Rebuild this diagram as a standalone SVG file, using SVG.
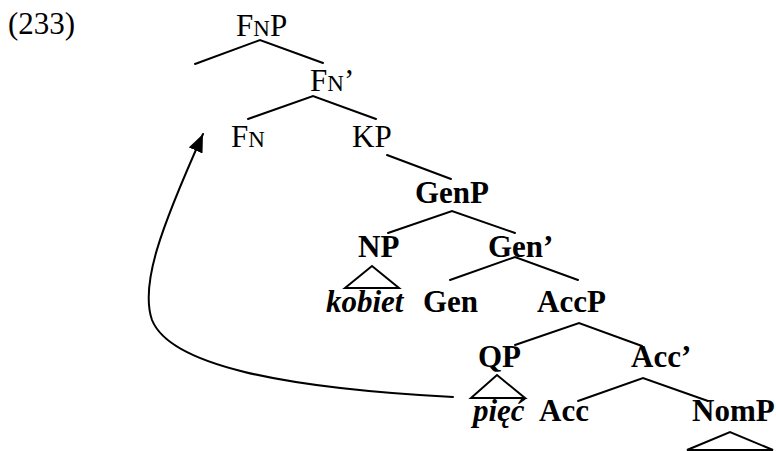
<svg xmlns="http://www.w3.org/2000/svg" width="776" height="451" viewBox="0 0 776 451">
<style>
text{font-family:"Liberation Serif","Times New Roman",serif;font-size:31px;fill:#000}
.b{font-weight:bold;font-size:31px}
.bi{font-weight:bold;font-style:italic;font-size:31px}
.sc{font-size:23px}
.e{stroke:#000;stroke-width:2;fill:none;stroke-linecap:round}
</style>
<defs>
<marker id="ah" markerUnits="userSpaceOnUse" markerWidth="19" markerHeight="16" refX="18" refY="7.5" orient="auto">
<path d="M0,0 L18,7.5 L0,15 z" fill="#000"/>
</marker>
</defs>
<text x="8" y="34">(233)</text>
<g id="FNP"><text x="236" y="36">F<tspan class="sc">N</tspan>P</text></g>
<g id="FNbar"><text x="310" y="91">F<tspan class="sc">N</tspan>’</text></g>
<g id="FN"><text x="231" y="147">F<tspan class="sc">N</tspan></text></g>
<g id="KP"><text x="352" y="147">KP</text></g>
<g id="GenP"><text class="b" x="415" y="203">GenP</text></g>
<g id="NP"><text class="b" x="358" y="257">NP</text></g>
<g id="Genbar"><text class="b" x="488" y="257">Gen’</text></g>
<g id="kobiet"><text class="bi" x="326" y="312">kobiet</text></g>
<g id="Gen"><text class="b" x="423" y="312">Gen</text></g>
<g id="AccP"><text class="b" x="537" y="312">AccP</text></g>
<g id="QP"><text class="b" x="478" y="367">QP</text></g>
<g id="Accbar"><text class="b" x="631" y="367">Acc’</text></g>
<g id="piec"><text class="bi" x="473" y="421">pięć</text></g>
<g id="Acc"><text class="b" x="539" y="421">Acc</text></g>
<g id="NomP"><text class="b" x="692" y="421">NomP</text></g>
<g id="connectors" class="e">
<path class="e" d="M195,64 L260,40 L323,63"/>
<path class="e" d="M248,119 L313,96 L376,119"/>
<path class="e" d="M387,155 L451,179"/>
<path class="e" d="M388,233 L452,211 L515,233"/>
<path class="e" d="M345,288 L372,266 L399,288 Z"/>
<path class="e" d="M450,280 L515,257 L578,280"/>
<path class="e" d="M515,345 L579,323 L642,346"/>
<path class="e" d="M471,398 L497,375 L525,398 Z"/>
<path class="e" d="M578,401 L643,378 L708,401"/>
<path class="e" d="M687,450 L730,432 L773,450 Z"/>
<path class="e" d="M453,397 C280,388 170,365 152,320 C140,285 160,230 203,134" marker-end="url(#ah)"/>
</g>
</svg>
